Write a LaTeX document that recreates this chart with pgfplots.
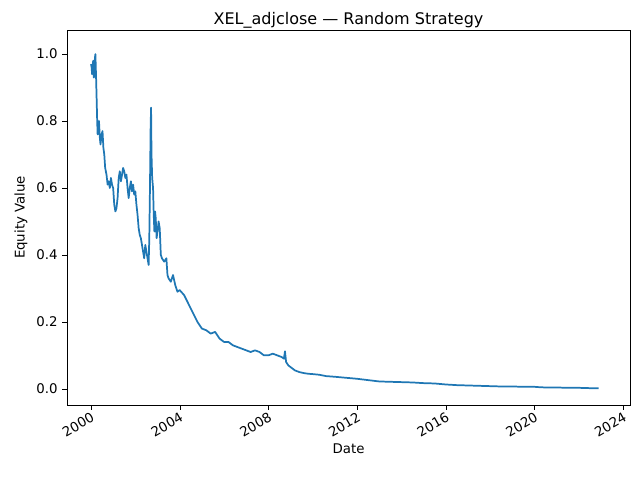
\documentclass[border=0pt]{standalone}
\usepackage{pgfplots}
\pgfplotsset{compat=1.18}
\usepackage{fontspec}
\setmainfont{DejaVu Sans}
\begin{document}
\fontsize{10}{12}\selectfont
\begin{tikzpicture}
\begin{axis}[
  scale only axis, width=422pt, height=281pt,
  xmin=1998.92, xmax=2024.31, ymin=-0.048, ymax=1.072,
  xtick={2000,2004,2008,2012,2016,2020,2024},
  xticklabels={2000,2004,2008,2012,2016,2020,2024},
  xticklabel style={rotate=30, anchor=north east, inner sep=1pt},
  ytick={0,0.2,0.4,0.6,0.8,1.0},
  yticklabel style={/pgf/number format/fixed,/pgf/number format/fixed zerofill,/pgf/number format/precision=1},
  /pgf/number format/assume math mode=true,
  tick align=outside, tick style={black}, major tick length=3.5pt,
  xtick pos=bottom, ytick pos=left,
  title={XEL\_adjclose — Random Strategy}, title style={font=\fontsize{12}{14}\selectfont, yshift=-8pt},
  xlabel={Date}, ylabel={Equity Value},
]
\addplot[color={rgb,255:red,31;green,119;blue,180}, line width=1.3pt, line join=round] coordinates {
(2000.0,0.97)(2000.03,0.96)(2000.05,0.94)(2000.08,0.97)(2000.1,0.98)(2000.13,0.93)(2000.15,0.95)(2000.18,0.99)(2000.2,1.0)(2000.23,0.93)(2000.25,0.88)(2000.28,0.8)(2000.3,0.76)(2000.33,0.77)(2000.36,0.8)(2000.4,0.75)(2000.43,0.73)(2000.48,0.76)(2000.52,0.77)(2000.56,0.72)(2000.6,0.7)(2000.64,0.66)(2000.7,0.64)(2000.75,0.61)(2000.8,0.62)(2000.85,0.6)(2000.9,0.63)(2000.95,0.61)(2001.0,0.6)(2001.05,0.55)(2001.1,0.53)(2001.15,0.54)(2001.2,0.57)(2001.25,0.63)(2001.3,0.65)(2001.35,0.62)(2001.4,0.64)(2001.45,0.66)(2001.5,0.65)(2001.55,0.63)(2001.6,0.64)(2001.65,0.6)(2001.7,0.57)(2001.75,0.6)(2001.8,0.62)(2001.85,0.59)(2001.9,0.61)(2001.95,0.58)(2002.0,0.59)(2002.05,0.55)(2002.1,0.52)(2002.15,0.48)(2002.2,0.46)(2002.25,0.45)(2002.3,0.43)(2002.35,0.41)(2002.4,0.39)(2002.45,0.43)(2002.5,0.41)(2002.55,0.39)(2002.6,0.37)(2002.63,0.45)(2002.66,0.6)(2002.69,0.78)(2002.71,0.84)(2002.73,0.7)(2002.76,0.63)(2002.8,0.6)(2002.83,0.52)(2002.86,0.47)(2002.89,0.53)(2002.92,0.51)(2002.96,0.45)(2003.0,0.47)(2003.05,0.5)(2003.1,0.48)(2003.15,0.4)(2003.2,0.39)(2003.3,0.38)(2003.4,0.39)(2003.45,0.34)(2003.5,0.33)(2003.6,0.32)(2003.7,0.34)(2003.8,0.31)(2003.9,0.29)(2004.0,0.295)(2004.2,0.28)(2004.35,0.26)(2004.5,0.24)(2004.65,0.22)(2004.8,0.2)(2005.0,0.18)(2005.2,0.175)(2005.4,0.165)(2005.6,0.17)(2005.8,0.15)(2006.0,0.14)(2006.2,0.14)(2006.4,0.13)(2006.6,0.125)(2006.8,0.12)(2007.0,0.115)(2007.2,0.11)(2007.4,0.115)(2007.6,0.11)(2007.8,0.1)(2008.0,0.1)(2008.2,0.105)(2008.4,0.1)(2008.6,0.095)(2008.7,0.09)(2008.75,0.112)(2008.8,0.08)(2008.9,0.07)(2009.0,0.065)(2009.2,0.055)(2009.4,0.05)(2009.6,0.047)(2009.8,0.045)(2010.0,0.044)(2010.3,0.042)(2010.6,0.038)(2011.0,0.036)(2011.5,0.033)(2012.0,0.03)(2012.5,0.026)(2013.0,0.022)(2013.5,0.021)(2014.0,0.02)(2014.5,0.019)(2015.0,0.017)(2015.5,0.016)(2016.0,0.013)(2016.5,0.011)(2017.0,0.01)(2017.5,0.009)(2018.0,0.008)(2018.5,0.007)(2019.0,0.007)(2019.5,0.006)(2020.0,0.006)(2020.2,0.005)(2020.5,0.004)(2021.0,0.004)(2021.5,0.003)(2022.0,0.003)(2022.5,0.002)(2022.9,0.002)
};
\end{axis}
\path ([shift={(-50.25pt,-56.25pt)}]current axis.south west) rectangle ([shift={(7.5pt,22.5pt)}]current axis.north east);
\end{tikzpicture}
\end{document}
